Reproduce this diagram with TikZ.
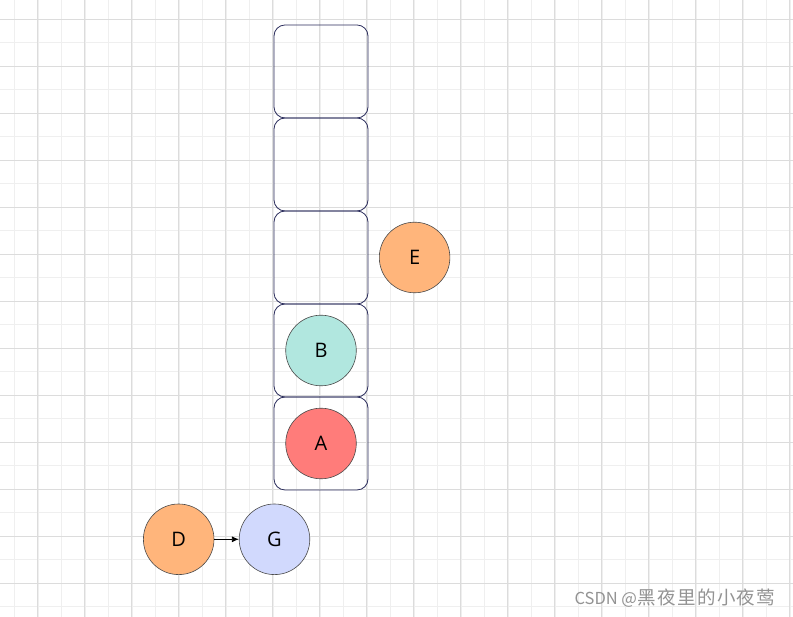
\documentclass[tikz,border=0pt]{standalone}
\usepackage{fontspec}
\setmainfont{Open Sans}
\newfontfamily\cjk{Noto Sans CJK SC}
\newfontfamily\cjkwide[LetterSpace=8]{Noto Sans CJK SC}
\usepackage{tikz}
\usetikzlibrary{arrows.meta,positioning}
\definecolor{frame}{HTML}{2B2D5C}
\definecolor{rim}{HTML}{4A4A4A}
\definecolor{mint}{HTML}{B1E7DF}
\definecolor{coral}{HTML}{FF7C7A}
\definecolor{peach}{HTML}{FFB57B}
\definecolor{lilac}{HTML}{D1D9FD}
\definecolor{minorgrid}{HTML}{EFEFEF}
\definecolor{majorgrid}{HTML}{DCDCDC}
\tikzset{slot/.style={draw=frame,rounded corners=11pt,minimum width=94pt,
  minimum height=93pt,inner sep=0pt,outer sep=0pt,line width=0.8pt},
  ball/.style={circle,draw=rim,minimum size=70.6pt,inner sep=0pt,
  font=\fontsize{20pt}{22pt}\selectfont,line width=0.6pt},
  arrow/.style={-{Latex[length=7pt,width=6pt]},line width=0.8pt,draw=black}}

\begin{document}
\begin{tikzpicture}[x=1pt,y=1pt,node distance=0pt]
\useasboundingbox (0,0) rectangle (793,617);
\fill[white] (0,0) rectangle (793,617);
% grid
\foreach \k in {0,...,33}
  \draw[minorgrid,line width=0.6pt] (14.3+23.5*\k,0) -- (14.3+23.5*\k,617);
\foreach \k in {0,...,26}
  \draw[minorgrid,line width=0.6pt] (0,597.7-23.5*\k) -- (793,597.7-23.5*\k);
\foreach \k in {0,...,16}
  \draw[majorgrid,line width=0.7pt] (37.8+47*\k,0) -- (37.8+47*\k,617);
\foreach \k in {0,...,13}
  \draw[majorgrid,line width=0.7pt] (0,597.7-47*\k) -- (793,597.7-47*\k);
% stack
\node[slot] (slotA) at (321,173.5) {};
\node[slot,above=of slotA] (slotB) {};
\node[slot,above=of slotB] (slotC) {};
\node[slot,above=of slotC] (slotD) {};
\node[slot,above=of slotD] (slotE) {};
\node[ball,fill=coral] (A) at (slotA) {A};
\node[ball,fill=mint] (B) at (slotB) {B};
\node[ball,fill=peach,right=11pt of slotC] (E) {E};
\node[ball,fill=peach] (D) at (178.7,77.7) {D};
\node[ball,fill=lilac,right=24.6pt of D] (G) {G};
\draw[arrow] (D) -- (G);
\node[anchor=east,text=gray!85,font=\cjk\fontsize{16.5pt}{18pt}\selectfont] (mark) at (779,19) {CSDN @{\cjkwide\fontsize{18.5pt}{20pt}\selectfont 黑夜里的小夜莺}};
\end{tikzpicture}
\end{document}
